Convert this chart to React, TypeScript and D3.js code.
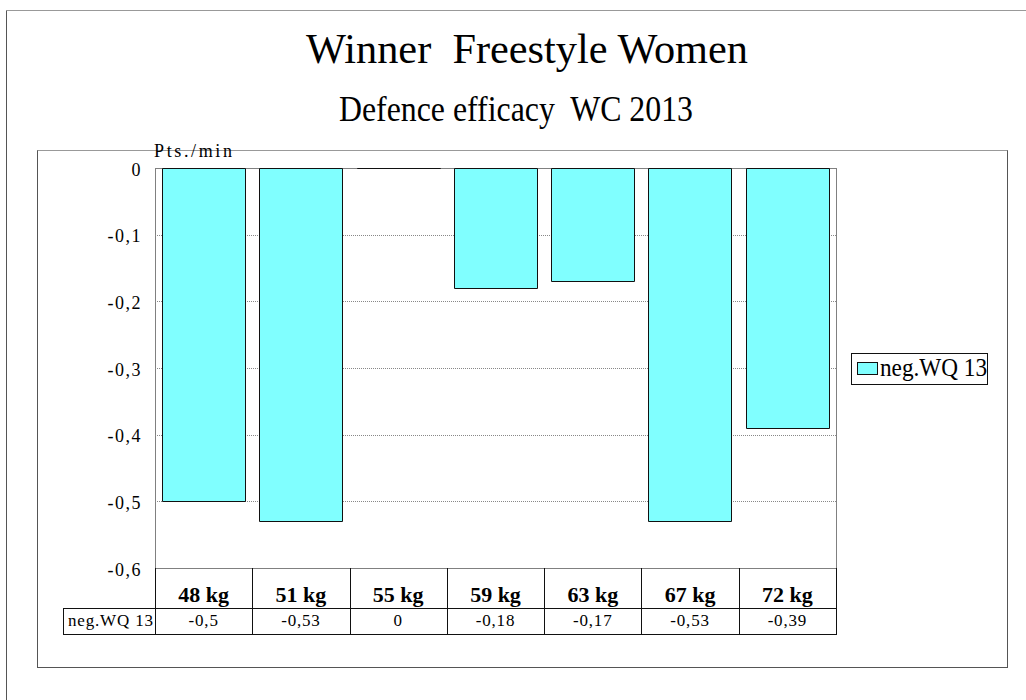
import React from 'react'
import { scaleBand, scaleLinear } from 'd3'

const categories = ['48 kg', '51 kg', '55 kg', '59 kg', '63 kg', '67 kg', '72 kg']
const values = [-0.5, -0.53, 0, -0.18, -0.17, -0.53, -0.39]
const valueLabels = ['-0,5', '-0,53', '0', '-0,18', '-0,17', '-0,53', '-0,39']
const yTicks = [0, -0.1, -0.2, -0.3, -0.4, -0.5, -0.6]
const yTickLabels = ['0', '-0,1', '-0,2', '-0,3', '-0,4', '-0,5', '-0,6']
const seriesName = 'neg.WQ 13'
const title = 'Winner  Freestyle Women'
const subtitle = 'Defence efficacy  WC 2013'
const yUnit = 'Pts./min'

const W = 1026
const H = 700
const font = '"Liberation Serif", "Times New Roman", serif'
const plot = { left: 155, right: 836, top: 168, bottom: 568 }
const table = { labelLeft: 63, rowMid: 608, bottom: 634 }

export default function App() {
  const x = scaleBand()
    .domain(categories)
    .range([plot.left, plot.right])
    .paddingInner(0.145)
    .paddingOuter(0.0725)

  const y = scaleLinear().domain([-0.6, 0]).range([plot.bottom, plot.top])
  const step = x.step()
  const edges = categories.map((c) => (x(c) as number) - x.paddingOuter() * step)
  edges.push(plot.right)

  // bars as paths so the zero bar still shows as a line
  const barPath = (c: string, v: number) => {
    const x0 = Math.round(x(c) as number) + 0.5
    const w = Math.round(x.bandwidth())
    const y0 = Math.round(y(0)) + 0.5
    const h = Math.round(y(v)) - Math.round(y(0))
    return `M${x0},${y0}h${w}v${h}h${-w}Z`
  }

  return (
    <svg
      width={W}
      height={H}
      style={{ position: 'absolute', left: 0, top: 0 }}
    >
      <rect x={0} y={0} width={W} height={H} fill="#fff" />
      {/* outer frame, only top and left are on the page */}
      <line x1={6.5} y1={10.5} x2={W} y2={10.5} stroke="#999" />
      <line x1={6.5} y1={10.5} x2={6.5} y2={H} stroke="#555" />
      {/* inner frame */}
      <rect x={37.5} y={150.5} width={970} height={517} fill="none" stroke="#555" />
      <line x1={37.5} y1={150.5} x2={1007.5} y2={150.5} stroke="#999" />

      <g fontFamily={font} fill="#000">
        <text
          x={527}
          y={63}
          fontSize={42}
          textAnchor="middle"
          textLength={442}
          lengthAdjust="spacingAndGlyphs"
          xmlSpace="preserve"
        >
          {title}
        </text>
        <text
          x={516}
          y={121}
          fontSize={35}
          textAnchor="middle"
          textLength={354}
          lengthAdjust="spacingAndGlyphs"
          xmlSpace="preserve"
        >
          {subtitle}
        </text>
      </g>

      {/* plot area */}
      <rect
        x={plot.left + 0.5}
        y={plot.top + 0.5}
        width={plot.right - plot.left}
        height={plot.bottom - plot.top}
        fill="#fff"
        stroke="#808080"
      />
      {yTicks.slice(1, -1).map((t) => (
        <line
          key={t}
          x1={plot.left}
          x2={plot.right}
          y1={Math.round(y(t)) + 0.5}
          y2={Math.round(y(t)) + 0.5}
          stroke="#888"
          strokeDasharray="1,1"
        />
      ))}
      {categories.map((c, i) => (
        <path key={c} d={barPath(c, values[i])} fill="#80FFFF" stroke="#111" />
      ))}

      <g fontFamily={font} fill="#000">
        {yTicks.map((t, i) => (
          <text
            key={t}
            x={142}
            y={y(t) + 7.5}
            fontSize={18}
            textAnchor="end"
            letterSpacing={1.5}
          >
            {yTickLabels[i]}
          </text>
        ))}
        <text x={154} y={157} fontSize={18} textLength={78} lengthAdjust="spacing">
          {yUnit}
        </text>
      </g>

      {/* data table */}
      <g stroke="#111" fill="none">
        {edges.map((e, i) => (
          <line
            key={i}
            x1={Math.round(e) + 0.5}
            x2={Math.round(e) + 0.5}
            y1={plot.bottom}
            y2={table.bottom}
          />
        ))}
        <line x1={table.labelLeft + 0.5} x2={table.labelLeft + 0.5} y1={table.rowMid} y2={table.bottom} />
        <line x1={table.labelLeft} x2={plot.right + 1} y1={table.rowMid + 0.5} y2={table.rowMid + 0.5} />
        <line x1={table.labelLeft} x2={plot.right + 1} y1={table.bottom + 0.5} y2={table.bottom + 0.5} />
      </g>
      <g fontFamily={font} fill="#000">
        {categories.map((c, i) => (
          <g key={c}>
            <text
              x={(x(c) as number) + x.bandwidth() / 2}
              y={602}
              fontSize={22}
              fontWeight="bold"
              textAnchor="middle"
            >
              {c}
            </text>
            <text
              x={(x(c) as number) + x.bandwidth() / 2}
              y={626}
              fontSize={17}
              textAnchor="middle"
              letterSpacing={0.8}
            >
              {valueLabels[i]}
            </text>
          </g>
        ))}
        <text x={68} y={626} fontSize={17} textLength={85} lengthAdjust="spacing">
          {seriesName}
        </text>
      </g>

      {/* legend */}
      <rect x={851.5} y={353.5} width={136} height={31} fill="#fff" stroke="#111" />
      <rect x={857.5} y={362.5} width={20} height={12} fill="#80FFFF" stroke="#111" />
      <text
        x={880}
        y={376}
        fontFamily={font}
        fontSize={25}
        textLength={107}
        lengthAdjust="spacingAndGlyphs"
      >
        {seriesName}
      </text>
    </svg>
  )
}
